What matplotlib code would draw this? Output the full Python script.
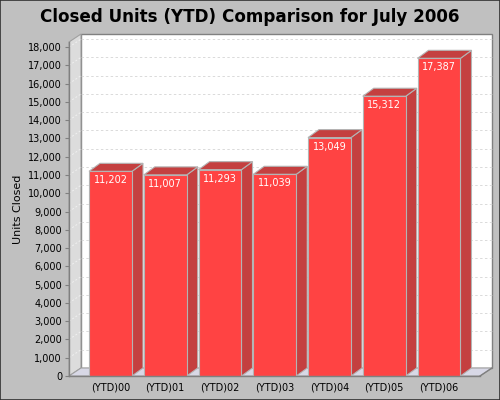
import matplotlib
matplotlib.use("Agg")
import matplotlib.pyplot as plt
from matplotlib.patches import Polygon, Rectangle
from matplotlib import transforms

categories = ["(YTD)00", "(YTD)01", "(YTD)02", "(YTD)03", "(YTD)04", "(YTD)05", "(YTD)06"]
values = [11202, 11007, 11293, 11039, 13049, 15312, 17387]
yticks = list(range(0, 18001, 1000))
title = "Closed Units (YTD) Comparison for July 2006"
ylabel = "Units Closed"

W, H = 500, 400
fig = plt.figure(figsize=(W / 100, H / 100), dpi=100)
fig.patch.set_facecolor("#C0C0C0")
fig.add_artist(Rectangle((0, 0), 1, 1, transform=fig.transFigure, fill=False,
                         edgecolor="#303030", linewidth=1.2))

left_px, right_px, bottom_px, top_px = 69, 480, 376, 42
ax = fig.add_axes([left_px / W, (H - bottom_px) / H,
                   (right_px - left_px) / W, (bottom_px - top_px) / H])
ax.set_facecolor("none")
for s in ax.spines.values():
    s.set_visible(False)

ymax = 18280
xmin, xmax = -0.758, 6.749
ax.set_xlim(xmin, xmax)
ax.set_ylim(0, ymax)

dx, dy = 12, 8
back = transforms.offset_copy(ax.transData, fig=fig, x=dx, y=dy, units="dots")
bdx, bdy = 11, 8

inv = ax.transData.inverted()
def shift(pt, ddx, ddy):
    d = ax.transData.transform(pt)
    return tuple(inv.transform((d[0] + ddx, d[1] + ddy)))

# back wall
ax.add_patch(Rectangle((xmin, 0), xmax - xmin, ymax, transform=back,
                       facecolor="white", edgecolor="#808080", lw=1, zorder=0,
                       clip_on=False))
for t in yticks[1:]:
    ax.plot([xmin, xmax], [t, t], transform=back, color="#DADADA", lw=0.7,
            ls=(0, (2.5, 2.5)), zorder=1, clip_on=False)

# left wall
lw_poly = [(xmin, 0), (xmin, ymax), shift((xmin, ymax), dx, dy), shift((xmin, 0), dx, dy)]
ax.add_patch(Polygon(lw_poly, closed=True, facecolor="#DCDCDC", edgecolor="#A0A0A0",
                     lw=0.8, zorder=1, clip_on=False))
for t in yticks[1:]:
    p2 = shift((xmin, t), dx, dy)
    ax.plot([xmin, p2[0]], [t, p2[1]], color="#F0F0F0", lw=0.7, ls=(0, (2, 2)),
            zorder=1.5, clip_on=False)

# floor
fl_poly = [(xmin, 0), (xmax, 0), shift((xmax, 0), dx, dy), shift((xmin, 0), dx, dy)]
ax.add_patch(Polygon(fl_poly, closed=True, facecolor="#D8D8E6", edgecolor="#A0A0A0",
                     lw=0.8, zorder=1.6, clip_on=False))

# bars
bw = 0.785
front_col = "#FF4343"
dark_col = "#C44040"
edge_col = "#B4B4B4"
for i, v in enumerate(values):
    x0, x1 = i - bw / 2, i + bw / 2
    side = [(x1, 0), (x1, v), shift((x1, v), bdx, bdy), shift((x1, 0), bdx, bdy)]
    ax.add_patch(Polygon(side, closed=True, facecolor=dark_col, edgecolor=edge_col,
                         lw=0.8, zorder=3, clip_on=False))
    top = [(x0, v), (x1, v), shift((x1, v), bdx, bdy), shift((x0, v), bdx, bdy)]
    ax.add_patch(Polygon(top, closed=True, facecolor=dark_col, edgecolor=edge_col,
                         lw=0.8, zorder=3, clip_on=False))
    ax.add_patch(Rectangle((x0, 0), bw, v, facecolor=front_col, edgecolor=edge_col,
                           lw=0.8, zorder=4, clip_on=False))
    ax.annotate(f"{v:,}", (i, v), xytext=(0, -9), textcoords="offset pixels",
                ha="center", va="center", color="white", fontsize=7, zorder=5)

# axis lines
ax.plot([xmin, xmin], [0, ymax], color="#808080", lw=1, zorder=6, clip_on=False)
ax.plot([xmin, xmax], [0, 0], color="#808080", lw=1, zorder=6, clip_on=False)
pe = shift((xmax, 0), dx, dy)
ax.plot([xmax, pe[0]], [0, pe[1]], color="#808080", lw=1, zorder=6, clip_on=False)

ax.set_yticks(yticks)
ax.set_yticklabels([f"{t:,}" for t in yticks])
ax.set_xticks(range(len(categories)))
ax.set_xticklabels(categories)
ax.tick_params(axis="y", length=3, width=0.8, color="#808080", labelsize=7, pad=2)
ax.tick_params(axis="x", length=0, labelsize=7, pad=5)
ax.set_ylabel(ylabel, fontsize=8, labelpad=4)

fig.text(0.5, (H - 17) / H, title, ha="center", va="center", fontsize=12.1,
         fontweight="bold")

fig.savefig("out.png", dpi=100, facecolor=fig.get_facecolor())
